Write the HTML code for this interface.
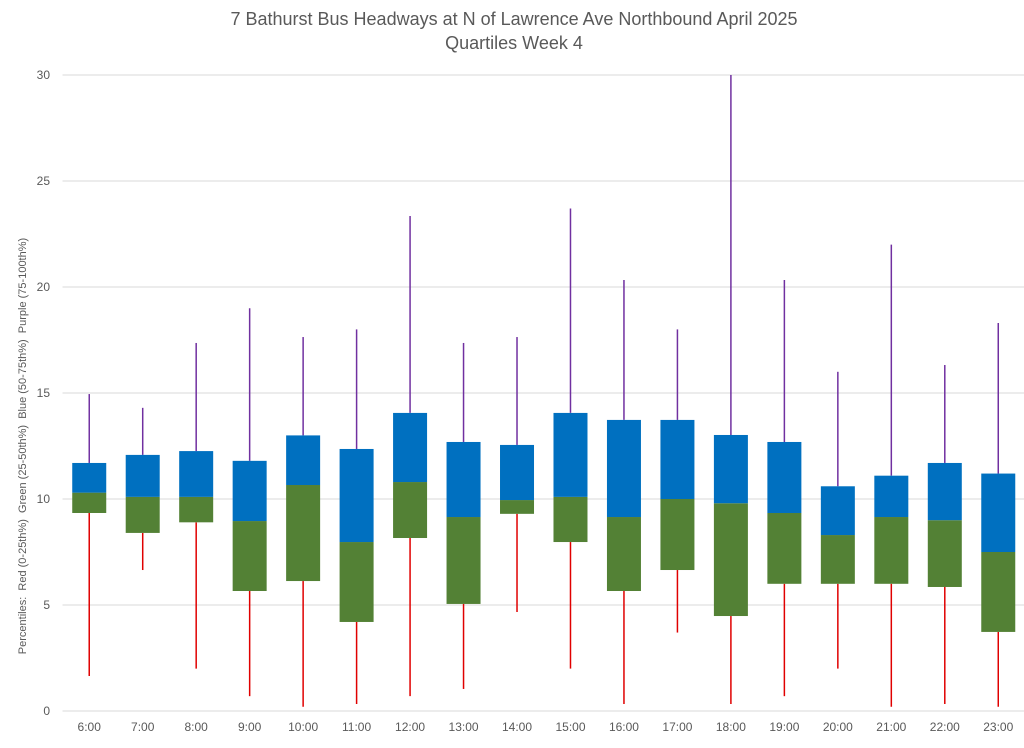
<!DOCTYPE html>
<html><head><meta charset="utf-8"><style>
body{margin:0;background:#fff;font-family:"Liberation Sans",sans-serif}
svg text{font-family:"Liberation Sans",sans-serif;fill:#595959}
</style></head><body>
<svg id="chart" width="1024" height="743" xmlns="http://www.w3.org/2000/svg">
<text x="514" y="25" text-anchor="middle" font-size="18">7 Bathurst Bus Headways at N of Lawrence Ave Northbound April 2025</text>
<text x="514" y="49" text-anchor="middle" font-size="18">Quartiles Week 4</text>
<text transform="translate(26,446) rotate(-90)" text-anchor="middle" font-size="11" xml:space="preserve">Percentiles:  Red (0-25th%)  Green (25-50th%)  Blue (50-75th%)  Purple (75-100th%)</text>
<g id="grid"></g><g id="marks"></g>
</svg>
<script>
const categories=["6:00","7:00","8:00","9:00","10:00","11:00","12:00","13:00","14:00","15:00","16:00","17:00","18:00","19:00","20:00","21:00","22:00","23:00"];
const minVals=[1.65,6.65,2.0,0.7,0.2,0.33,0.7,1.04,4.67,2.0,0.33,3.7,0.33,0.7,2.0,0.2,0.33,0.2];
const q1Vals=[9.34,8.4,8.9,5.66,6.13,4.2,8.16,5.05,9.3,7.97,5.66,6.65,4.48,6.0,6.0,6.0,5.85,3.73];
const medVals=[10.3,10.1,10.1,8.96,10.66,7.97,10.8,9.15,9.95,10.1,9.15,10.0,9.8,9.34,8.3,9.15,9.0,7.5];
const q3Vals=[11.7,12.08,12.26,11.8,13.0,12.36,14.06,12.69,12.55,14.06,13.73,13.73,13.02,12.69,10.6,11.1,11.7,11.2];
const maxVals=[14.95,14.3,17.36,19.0,17.64,18.0,23.35,17.36,17.64,23.7,20.33,18.0,30,20.33,16.0,22.0,16.32,18.3];
const yTicks=[0,5,10,15,20,25,30];
const NS="http://www.w3.org/2000/svg";
const L=62.5,R=1025,T=75,B=711,ymax=30;
const y=v=>B-(v/ymax)*(B-T);
const step=(R-L)/categories.length;
const x=i=>L+step*(i+0.5);
function mk(tag,attrs,parent,txt){const e=document.createElementNS(NS,tag);for(const k in attrs)e.setAttribute(k,attrs[k]);if(txt!=null)e.textContent=txt;parent.appendChild(e);return e;}
const grid=document.getElementById('grid'),marks=document.getElementById('marks');
yTicks.forEach(t=>{
  const g=mk('line',{x1:L,x2:1030,y1:y(t),y2:y(t),stroke:'#d9d9d9','stroke-width':1},grid);
  
  
  const tx=mk('text',{x:50,y:y(t)+4,'text-anchor':'end','font-size':12},grid,String(t));
  
  
});
const bw=34;
categories.forEach((c,i)=>{
  const cx=x(i);
  const lo=mk('line',{x1:cx,x2:cx,y1:y(minVals[i]),y2:y(q1Vals[i]),stroke:'#e00000','stroke-width':1.5},marks);
  
  
  const hi=mk('line',{x1:cx,x2:cx,y1:y(maxVals[i]),y2:y(q3Vals[i]),stroke:'#7030a0','stroke-width':1.5},marks);
  
  
  const g=mk('rect',{x:cx-bw/2,y:y(medVals[i]),width:bw,height:y(q1Vals[i])-y(medVals[i]),fill:'#538135'},marks);
  
  
  const b=mk('rect',{x:cx-bw/2,y:y(q3Vals[i]),width:bw,height:y(medVals[i])-y(q3Vals[i]),fill:'#0070c0'},marks);
  
  
  const tx=mk('text',{x:cx,y:731,'text-anchor':'middle','font-size':12},marks,c);
  
  
});
</script>
</body></html>
